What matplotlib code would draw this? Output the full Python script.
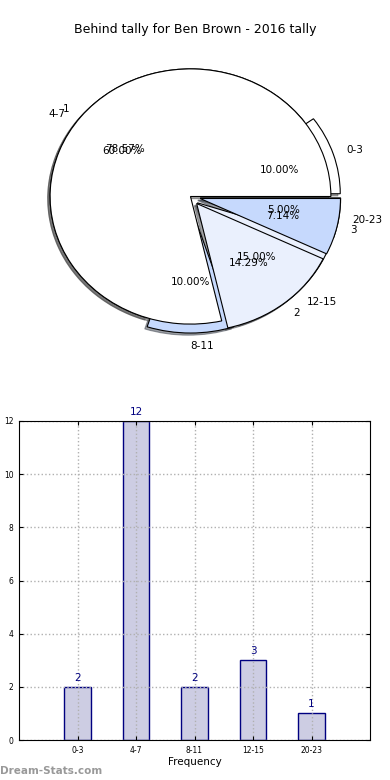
import matplotlib
matplotlib.use("Agg")
import matplotlib.pyplot as plt

# data
intervals = ["0-3", "4-7", "8-11", "12-15", "20-23"]
counts = [2, 12, 2, 3, 1]
group_labels = ["1", "2", "3"]
group_counts = [11, 2, 1]

light = "#c6d9fd"
pale = "#eaf0fd"

fig = plt.figure(figsize=(3.9, 7.8), dpi=100)

# pie (two overlaid pies, stretched like the old output)
ax1 = fig.add_axes([15/390, 1 - 356/780, 351/390, 319/780])
wp = {"edgecolor": "black", "linewidth": 0.8}
shad = {"ox": -0.012, "oy": -0.012, "label": "_nolegend_"}
w1, t1, p1 = ax1.pie(counts, labels=intervals, autopct="%1.2f%%",
                     colors=["white", "white", light, pale, light],
                     explode=[0.07, 0, 0.07, 0.07, 0.07],
                     shadow=shad, wedgeprops=wp,
                     textprops={"fontsize": 7.5})
w2, t2, p2 = ax1.pie(group_counts, labels=group_labels, autopct="%1.2f%%",
                     colors=["white", pale, light],
                     explode=[0, 0.07, 0.07],
                     shadow=shad, wedgeprops=wp,
                     textprops={"fontsize": 7.5})
t1[2].set_ha("left")
ax1.set_aspect("auto")
ax1.set_xlim(-1.25, 1.25)
ax1.set_ylim(-1.25, 1.25)
fig.text(0.5, 1 - 30/780, "Behind tally for Ben Brown - 2016 tally",
         ha="center", va="center", fontsize=9)

# bars
ax2 = fig.add_axes([19/390, 40/780, 351/390, 319/780])
pos = list(range(len(intervals)))
ax2.bar(pos, counts, width=0.45, color="#cdcde3", edgecolor="#000080",
        linewidth=1)
for x, c in zip(pos, counts):
    ax2.text(x, c + 0.15, str(c), ha="center", va="bottom",
             color="#000080", fontsize=7.5)
ax2.set_xlim(-1, 5)
ax2.set_ylim(0, 12)
ax2.set_xticks(pos)
ax2.set_xticklabels(intervals)
ax2.set_yticks(range(0, 13, 2))
ax2.tick_params(labelsize=5.5, length=3, direction="in", pad=4,
                top=True, right=True)
ax2.set_axisbelow(False)
ax2.grid(True, linestyle=":", color="#b0b0b0", linewidth=1)
for sp in ax2.spines.values():
    sp.set_zorder(3)
ax2.set_xlabel("Frequency", fontsize=7.5, labelpad=2)
ax2.set_ylabel("Bets/Interval", fontsize=7.5)
ax2.yaxis.set_label_coords(-0.06, 0.5)

fig.text(0.0, 1 - 771/780, "Dream-Stats.com", ha="left", va="center",
         fontsize=7.5, color="#999999", fontweight="bold")

fig.savefig("out.png", dpi=100)
